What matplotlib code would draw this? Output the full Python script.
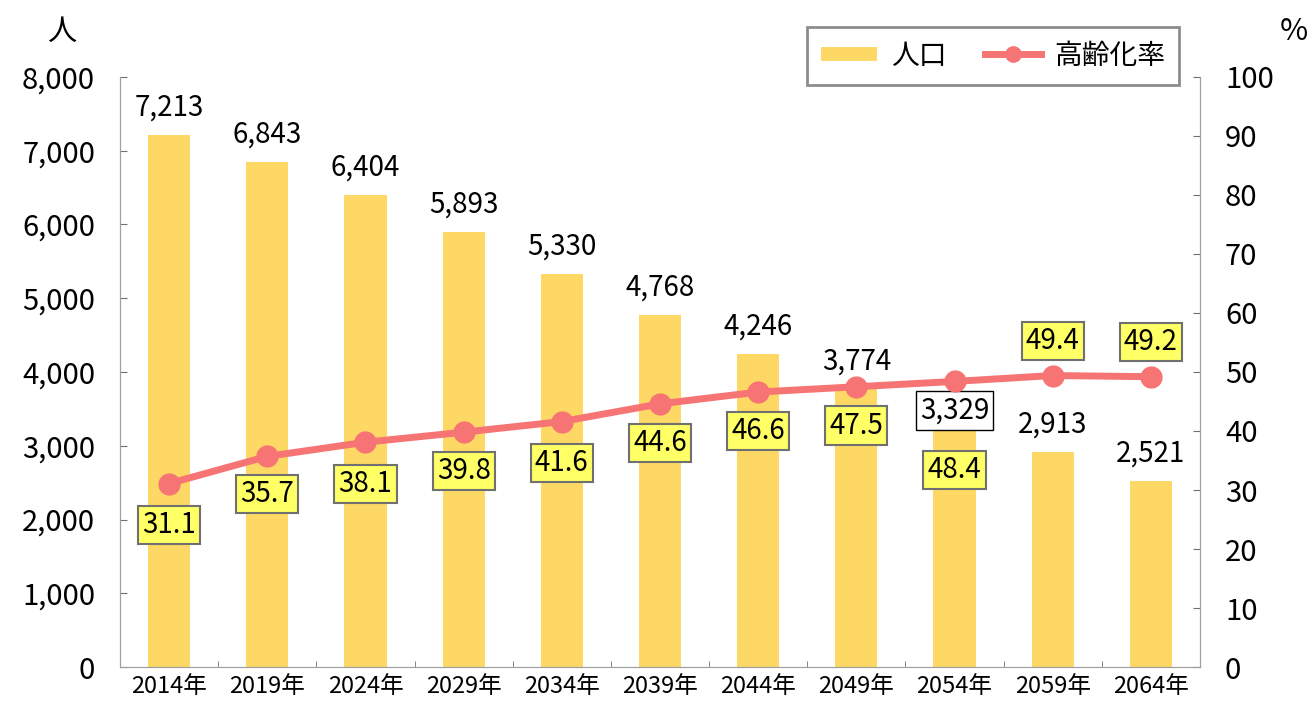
import matplotlib.pyplot as plt
from matplotlib.lines import Line2D
import numpy as np

plt.rcParams['font.family'] = ['Noto Sans CJK JP', 'DejaVu Sans']

years = ["2014年", "2019年", "2024年", "2029年", "2034年", "2039年",
         "2044年", "2049年", "2054年", "2059年", "2064年"]
population = [7213, 6843, 6404, 5893, 5330, 4768, 4246, 3774, 3329, 2913, 2521]
aging_rate = [31.1, 35.7, 38.1, 39.8, 41.6, 44.6, 46.6, 47.5, 48.4, 49.4, 49.2]
# label placement for aging rate: below (-) or above (+) the point, in points
rate_offset = [-30, -27, -30, -28, -30, -28, -28, -28, -64, 25, 25]

bar_color = "#FDD865"
line_color = "#F77474"
box_face = "#FFFF66"
edge_gray = "#707070"

fig = plt.figure(figsize=(13.12, 7.06), dpi=100)
ax = fig.add_axes([0.0915, 0.0552, 0.8231, 0.8358])
ax2 = ax.twinx()

x = np.arange(len(years))
ax.bar(x, population, width=0.43, color=bar_color, zorder=2)
ax.set_ylim(0, 8000)
ax.set_xlim(-0.5, len(years) - 0.5)
ax.set_yticks(range(0, 8001, 1000))
ax.set_yticklabels([f"{v:,}" for v in range(0, 8001, 1000)], fontsize=21)
ax.set_xticks(x)
ax.set_xticklabels(years, fontsize=17)
ax.set_xticks(np.arange(0.5, len(years) - 1, 1), minor=True)
ax.tick_params(axis='x', which='major', length=0, pad=6)
ax.tick_params(axis='x', which='minor', length=4, direction='in', color=edge_gray)
ax.tick_params(axis='y', length=5, direction='in', color=edge_gray, pad=18)

for i, v in enumerate(population):
    if i == 8:
        ax.annotate(f"{v:,}", (i, v), xytext=(0, 8), textcoords='offset points',
                    ha='center', va='center', fontsize=20,
                    bbox=dict(boxstyle='square,pad=0.15', fc='white', ec='black', lw=1),
                    zorder=6)
    else:
        ax.annotate(f"{v:,}", (i, v), xytext=(0, 9), textcoords='offset points',
                    ha='center', va='bottom', fontsize=20)

ax2.plot(x, aging_rate, color=line_color, lw=5, marker='o', markersize=15, zorder=3)
ax2.set_ylim(0, 100)
ax2.set_yticks(range(0, 101, 10))
ax2.set_yticklabels([str(v) for v in range(0, 101, 10)], fontsize=21)
ax2.tick_params(axis='y', length=5, direction='in', color=edge_gray, pad=18)

for i, v in enumerate(aging_rate):
    ax2.annotate(f"{v}", (i, v), xytext=(0, rate_offset[i]), textcoords='offset points',
                 ha='center', va='center', fontsize=20,
                 bbox=dict(boxstyle='square,pad=0.15', fc=box_face, ec=edge_gray, lw=1.5),
                 zorder=5)

for a in (ax, ax2):
    a.spines['top'].set_visible(False)
    for s in ('left', 'right', 'bottom'):
        a.spines[s].set_color('#A0A0A0')

fig.text(0.047, 0.955, "人", fontsize=21, ha='center', va='center')
fig.text(0.986, 0.955, "%", fontsize=22, ha='center', va='center')

handles = [Line2D([0], [0], color=bar_color, lw=10, solid_capstyle='butt'),
           Line2D([0], [0], color=line_color, lw=5, marker='o', markersize=11)]
leg = fig.legend(handles, ["人口", "高齢化率"], ncol=2, fontsize=20,
                 loc='upper right', bbox_to_anchor=(0.899, 0.962), borderaxespad=0,
                 frameon=True, fancybox=False, edgecolor=edge_gray,
                 handlelength=2.0, handletextpad=0.5, columnspacing=1.4,
                 borderpad=0.5)
leg.get_frame().set_linewidth(2)

fig.savefig("out.png", dpi=100)
